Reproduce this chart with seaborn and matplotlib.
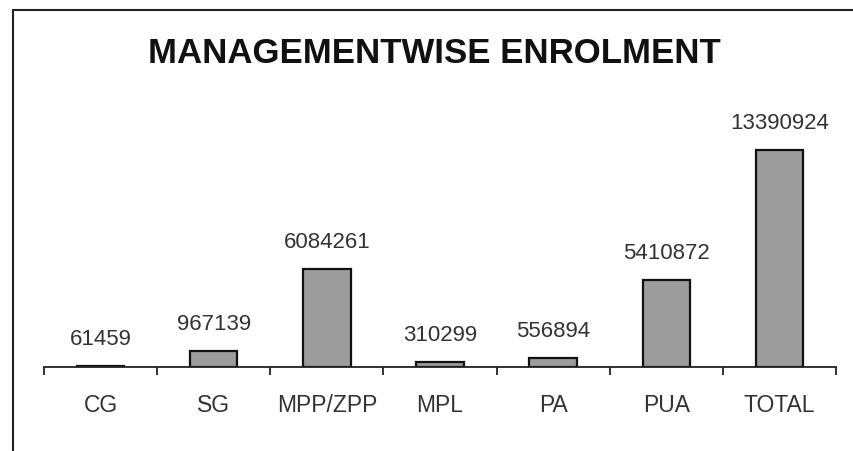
import matplotlib
matplotlib.use("Agg")
import matplotlib.pyplot as plt
import seaborn as sns
import numpy as np
from matplotlib.lines import Line2D
from matplotlib.ticker import FixedLocator

categories = ["CG", "SG", "MPP/ZPP", "MPL", "PA", "PUA", "TOTAL"]
enrolment = [61459, 967139, 6084261, 310299, 556894, 5410872, 13390924]

sns.set_style("white")
plt.rcParams["font.family"] = ["Liberation Sans", "DejaVu Sans"]

fig = plt.figure(figsize=(8.54, 4.51), dpi=100)
ax = fig.add_axes([0.0515, 0.186, 0.9275, 0.574])

sns.barplot(x=categories, y=enrolment, color="#9c9c9c", edgecolor="#111111",
            linewidth=1.6, width=0.42, saturation=1, ax=ax)

ax.bar_label(ax.containers[0], labels=[str(v) for v in enrolment],
             padding=11.5, fontsize=16, color="#333333")

ax.set_ylim(0, 16000000)
ax.set_xlim(-0.5, len(categories) - 0.5)
ax.set_yticks([])
for side in ["left", "right", "top"]:
    ax.spines[side].set_visible(False)
ax.spines["bottom"].set_color("#222222")
ax.spines["bottom"].set_linewidth(1.3)

ax.tick_params(axis="x", which="major", bottom=True, length=0, pad=19,
               labelsize=16.5, labelcolor="#333333")
ax.xaxis.set_minor_locator(FixedLocator(np.arange(-0.5, len(categories), 1.0)))
ax.tick_params(axis="x", which="minor", bottom=True, length=6, width=1.3,
               color="#222222", direction="out")
ax.set_xlabel("")
ax.set_ylabel("")

fig.text(0.509, 0.882, "MANAGEMENTWISE ENROLMENT", ha="center", va="center",
         fontsize=25, fontweight="bold", color="#111111")

# chart frame (top and left edges visible in the reference)
fig.add_artist(Line2D([0.0152, 1.0], [0.978, 0.978], transform=fig.transFigure,
                      color="#222222", linewidth=1.5))
fig.add_artist(Line2D([0.0152, 0.0152], [0.0, 0.978], transform=fig.transFigure,
                      color="#222222", linewidth=1.5))

fig.savefig("out.png", dpi=100, facecolor="white")
